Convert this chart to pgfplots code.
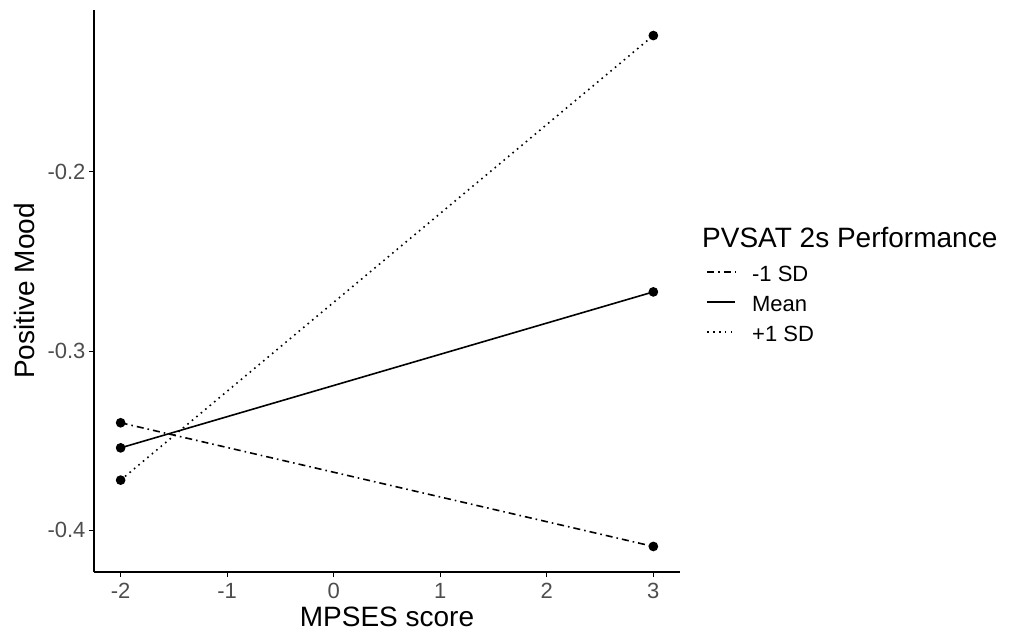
\documentclass[border=0pt]{standalone}
\usepackage{fontspec}
\setmainfont{Liberation Sans}
\usepackage{pgfplots}
\pgfplotsset{compat=1.18}
\definecolor{ticktext}{HTML}{4D4D4D}

\begin{document}
\begin{tikzpicture}
\useasboundingbox (-94pt,-61pt) rectangle (921pt,572pt);
\begin{axis}[
  at={(0,0)}, anchor=south west,
  scale only axis, width=586pt, height=562pt,
  xmin=-2.25, xmax=3.25, ymin=-0.42325, ymax=-0.10975,
  axis lines*=left, axis line style={black, line width=1.2pt},
  xtick={-2,-1,0,1,2,3}, ytick={-0.4,-0.3,-0.2},
  tick align=outside, major tick length=5pt,
  tick style={black, line width=1.1pt},
  /pgf/number format/assume math mode=true,
  yticklabel style={/pgf/number format/.cd, fixed, fixed zerofill, precision=1},
  ticklabel style={font=\fontsize{22}{26}\selectfont, text=ticktext},
  xticklabel style={inner sep=0pt, yshift=-6pt},
  xlabel={MPSES score}, ylabel={Positive Mood},
  label style={font=\fontsize{28}{32}\selectfont},
  xlabel style={at={(axis description cs:0.5,-0.079)}, anchor=center},
  ylabel style={at={(axis description cs:-0.118,0.5)}, anchor=center},
  legend style={draw=none, fill=none, at={(axis description cs:1.045,0.5587)}, anchor=north west,
    font=\fontsize{22}{26}\selectfont, inner sep=0pt, row sep=0pt, column sep=0pt,
    nodes={inner sep=0pt, text height=23pt, text depth=7pt}},
  legend cell align=left,
  legend image code/.code={\draw[#1] (0pt,1pt) -- (28pt,1pt); \path (44pt,1pt);},
]
\addplot[black, line width=1.6pt, dash pattern=on 7pt off 4pt on 1.6pt off 4pt,
  mark=*, mark size=4pt, mark options={solid}] coordinates {(-2,-0.340) (3,-0.409)};
\addlegendentry{-1 SD}
\addplot[black, line width=1.6pt, solid,
  mark=*, mark size=4pt, mark options={solid}] coordinates {(-2,-0.354) (3,-0.267)};
\addlegendentry{Mean}
\addplot[black, line width=1.6pt, dash pattern=on 1.6pt off 4.2pt,
  mark=*, mark size=4pt, mark options={solid}] coordinates {(-2,-0.372) (3,-0.124)};
\addlegendentry{+1 SD}
\end{axis}
\node[anchor=west, inner sep=0pt, font=\fontsize{28}{32}\selectfont] at (608pt,334pt) {PVSAT 2s Performance};
\end{tikzpicture}
\end{document}
